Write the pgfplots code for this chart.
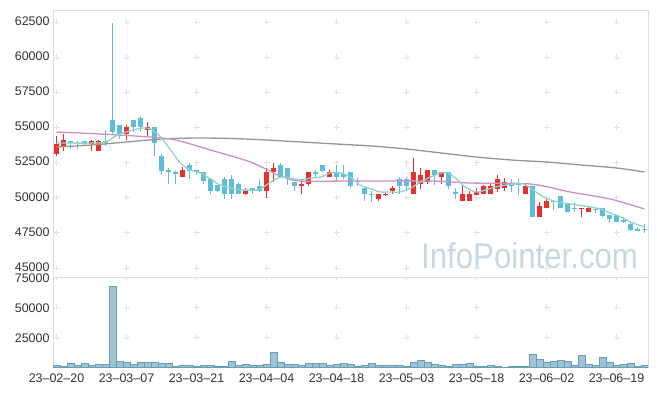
\documentclass[border=0pt]{standalone}
\usepackage{fontspec}
\setmainfont{Liberation Sans}
\usepackage{pgfplots}
\usepackage{pgfplotstable}
\pgfplotsset{compat=1.18}
\definecolor{cup}{HTML}{E8302E}
\definecolor{cdn}{HTML}{5EBDD9}
\definecolor{volf}{HTML}{9DC3D4}
\definecolor{vold}{HTML}{6B9DB5}
\definecolor{maA}{HTML}{93D2C6}
\definecolor{maB}{HTML}{CC8FC8}
\definecolor{maC}{HTML}{959595}
\definecolor{framec}{HTML}{DDDDDD}
\definecolor{gridc}{HTML}{E2E2E2}
\definecolor{labc}{HTML}{333333}
\definecolor{wmc}{HTML}{C8D8E3}

\pgfplotstableread{
i O H L C
0 53100 54400 53000 53800
1 53700 54500 53300 54100
5 53800 54100 53300 54000
6 53300 54100 53300 54000
10 54500 55200 54100 55000
13 54800 55400 54300 55000
18 51500 52200 51500 52000
27 50300 50700 50200 50500
30 50500 52100 50000 51800
31 51800 52500 51100 52100
35 50800 51300 50300 51000
36 51000 51800 50800 51800
39 51500 52000 51500 51800
46 49900 50300 49800 50300
47 50200 50400 50100 50300
48 50500 50800 50300 50700
51 50300 52800 50300 51800
52 51000 52100 50600 51600
53 51100 52000 51000 52000
55 51500 51800 51000 51800
58 49800 50900 49800 50300
59 49800 50500 49800 50300
60 50200 50700 50200 50400
61 50300 50900 50300 50800
62 50300 51000 50300 50800
63 50600 51600 50400 51300
64 50700 51400 50500 51100
67 50300 51000 50300 50800
69 48600 49700 48600 49400
70 49300 49900 49300 49800
75 49200 49300 48600 49300
76 49000 49400 49000 49300
}\upc

\pgfplotstableread{
i O H L C
2 54000 54000 53500 53900
3 53900 54000 53500 53850
4 54000 54000 53700 53800
7 54000 54800 53700 53900
8 55500 62400 54500 54700
9 55200 55200 54200 54500
11 55500 55500 54700 55000
12 55700 55800 54700 55000
14 55000 55000 53000 53900
15 53000 53100 51600 51900
16 52000 52100 51000 51800
17 51800 51900 51000 51700
19 52300 52500 51300 51900
20 52000 52000 51600 51800
21 51800 51800 51000 51200
22 51300 51300 50300 50500
23 50900 50900 50400 50500
24 51300 51500 49900 50300
25 51300 51600 49900 50300
26 51000 51100 50300 50300
28 50700 50700 50300 50500
29 50800 51300 50400 50500
32 52300 52500 51400 51500
33 52100 52100 50900 51500
34 51100 51100 50500 50800
37 51800 52000 51400 51700
38 52300 52300 51800 51900
40 51800 52300 51100 51500
41 51700 52300 51300 51500
42 51800 51800 50700 50800
43 51200 51400 50800 51100
44 50700 50700 49800 50300
45 50300 50500 49700 50200
49 51300 51500 50300 50800
50 51300 51500 50500 50800
54 52000 52000 50900 51600
56 51800 51800 50600 50800
57 50400 50700 49900 50300
65 51000 51300 50400 50800
66 51000 51300 50200 50900
68 50800 50800 48600 48600
71 49800 49800 49100 49700
72 50100 50100 49300 49300
73 49600 49600 49000 49000
74 49300 49600 49000 49200
77 49200 49300 48900 49100
78 49300 49300 48600 48700
79 48800 48800 48200 48500
80 48800 48800 48300 48300
81 48400 48600 48200 48300
82 48100 48300 47600 47700
83 47800 47900 47600 47600
84 47800 48100 47500 47700
}\dnc

\pgfplotstableread{
i v
0 1100
1 300
2 2800
3 1100
4 2800
5 1100
6 1900
7 1900
8 67300
9 4700
10 3600
11 1900
12 3600
13 3600
14 3600
15 2800
16 2800
17 300
18 1100
19 1100
20 300
21 1100
22 1100
23 300
24 300
25 4700
26 1100
27 1900
28 1100
29 1100
30 1900
31 12200
32 3900
33 1900
34 1900
35 1100
36 2800
37 2800
38 2800
39 1100
40 1900
41 2800
42 1900
43 300
44 1100
45 2800
46 1100
47 1100
48 1100
49 1100
50 300
51 3900
52 5600
53 3900
54 1900
55 1100
56 300
57 1900
58 1900
59 2800
60 300
61 300
62 1100
63 300
64 100
65 300
66 300
67 300
68 10300
69 6100
70 3900
71 4700
72 5600
73 4700
74 1100
75 9500
76 1900
77 1100
78 7800
79 3900
80 1100
81 1900
82 2800
83 300
84 1100
}\vol

\pgfplotsset{
  base/.style={
    scale only axis, width=595bp,
    xmin=-0.5, xmax=84.5,
    axis line style={draw=framec, line width=0.8bp},
    major tick length=0pt, tick style={draw=none},
    ticklabel style={font=\fontsize{12.5}{14}\selectfont, text=labc},
    /pgf/number format/assume math mode=true,
    /pgf/number format/1000 sep={},
    scaled y ticks=false,
    xtick={0,10,20,30,40,50,60,70,80},
  },
  candle/.style={draw=none, no markers, error bars/.cd, y dir=both, y explicit, error mark=none},
}
\tikzset{
  gridv/.style={draw=gridc, line width=1bp, dash pattern=on 6bp off 29.14bp, dash phase=29.14bp},
  gridh/.style={draw=gridc, line width=1bp, dash pattern=on 6bp off 64bp, dash phase=69.5bp},
  gridvl/.style={draw=gridc, line width=1bp, dash pattern=on 6bp off 24bp, dash phase=3bp},
}

\begin{document}
\begin{tikzpicture}
\useasboundingbox (0,0) rectangle (657bp,-396bp);
\node[anchor=base west, font=\fontsize{36}{36}\selectfont, text=wmc, xscale=0.87, inner sep=0pt] at (421bp,-268bp) {InfoPointer.com};

\begin{axis}[base, at={(53bp,-10bp)}, anchor=north west, height=267bp,
  ymin=44360, ymax=63355, ytick={45000,47500,50000,52500,55000,57500,60000,62500}, xticklabels={},
  yticklabel style={yshift=1bp}]
  \pgfplotsinvokeforeach{0,10,20,30,40,50,60,70,80}{\draw[gridv] (axis cs:#1,44360) -- (axis cs:#1,63355);}
  \pgfplotsinvokeforeach{45000,47500,50000,52500,55000,57500,60000,62500}{\draw[gridh] (axis cs:-0.5,#1) -- (axis cs:84.5,#1);}
  % wicks
  \addplot[candle, error bar style={draw=cup, line width=1bp, solid}]
    table[x=i, y=C, y error plus expr=\thisrow{H}-\thisrow{C}, y error minus expr=\thisrow{C}-\thisrow{L}] {\upc};
  \addplot[candle, error bar style={draw=cdn, line width=1bp, solid}]
    table[x=i, y=C, y error plus expr=\thisrow{H}-\thisrow{C}, y error minus expr=\thisrow{C}-\thisrow{L}] {\dnc};
  % bodies
  \addplot[candle, error bar style={draw=cup, line width=5bp, solid}]
    table[x=i, y=C, y error plus expr=0, y error minus expr=\thisrow{C}-\thisrow{O}] {\upc};
  \addplot[candle, error bar style={draw=cdn, line width=5bp, solid}]
    table[x=i, y=O, y error plus expr=0, y error minus expr=\thisrow{O}-\thisrow{C}] {\dnc};
  % moving averages
  \addplot[maC, line width=1.3bp, smooth, no markers] coordinates {(0,53608)(5,53750)(10,53964)(15,54177)(20,54248)(25,54213)(30,54106)(35,53964)(40,53821)(45,53679)(50,53466)(55,53181)(60,52896)(65,52683)(70,52541)(75,52327)(80,52114)(84,51830)};
  \addplot[maB, line width=1.3bp, smooth, no markers] coordinates {(0,54675)(6.3,54533)(13.4,54320)(17,54106)(22,53395)(27.7,52541)(32,51545)(34.9,51189)(42,51189)(53.4,51189)(59,51047)(67.7,50976)(73.4,50407)(79.1,49909)(84,49197)};
  \addplot[maA, line width=1.3bp, smooth, no markers] coordinates {(0,53890)(4.9,53890)(7,53960)(8.7,54460)(11,54820)(12.3,54960)(13.4,54890)(14.9,54320)(16.3,53400)(17.7,52470)(19.1,51970)(20.6,51760)(22,51330)(23.4,50900)(24.9,50690)(26.3,50550)(27.7,50550)(29.1,50620)(30.6,51120)(32,51470)(33.4,51400)(34.9,51260)(36.3,51400)(37.7,51470)(39.1,51760)(40.6,51760)(42,51470)(43.4,50900)(44.9,50620)(46.3,50410)(47.7,50410)(49.1,50410)(50.6,50690)(52,51120)(53.4,51470)(54.9,51760)(55.9,51760)(57,51400)(58.4,50760)(59.9,50410)(61.3,50550)(62.7,50760)(64.1,50900)(65.6,50980)(66.7,50980)(68.1,50550)(69.6,50050)(71,49770)(72.4,49620)(74.4,49480)(76.3,49340)(77.7,49200)(79.1,48910)(80.6,48630)(82,48270)(84,47920)};
\end{axis}

\begin{axis}[base, at={(53bp,-277bp)}, anchor=north west, height=90bp,
  ymin=0, ymax=75000, ytick={25000,50000,75000},
  yticklabel style={yshift=-1.5bp},
  xticklabels={23\textendash02\textendash20,23\textendash03\textendash07,23\textendash03\textendash21,23\textendash04\textendash04,23\textendash04\textendash18,23\textendash05\textendash03,23\textendash05\textendash18,23\textendash06\textendash02,23\textendash06\textendash19},
  xticklabel style={yshift=-3bp}]
  \pgfplotsinvokeforeach{0,10,20,30,40,50,60,70,80}{\draw[gridvl] (axis cs:#1,0) -- (axis cs:#1,75000);}
  \pgfplotsinvokeforeach{25000,50000,75000}{\draw[gridh] (axis cs:-0.5,#1) -- (axis cs:84.5,#1);}
  \addplot[ybar, bar width=1, bar shift=0pt, fill=volf, draw=vold, line width=0.6bp] table[x=i, y=v] {\vol};
\end{axis}
\end{tikzpicture}
\end{document}
